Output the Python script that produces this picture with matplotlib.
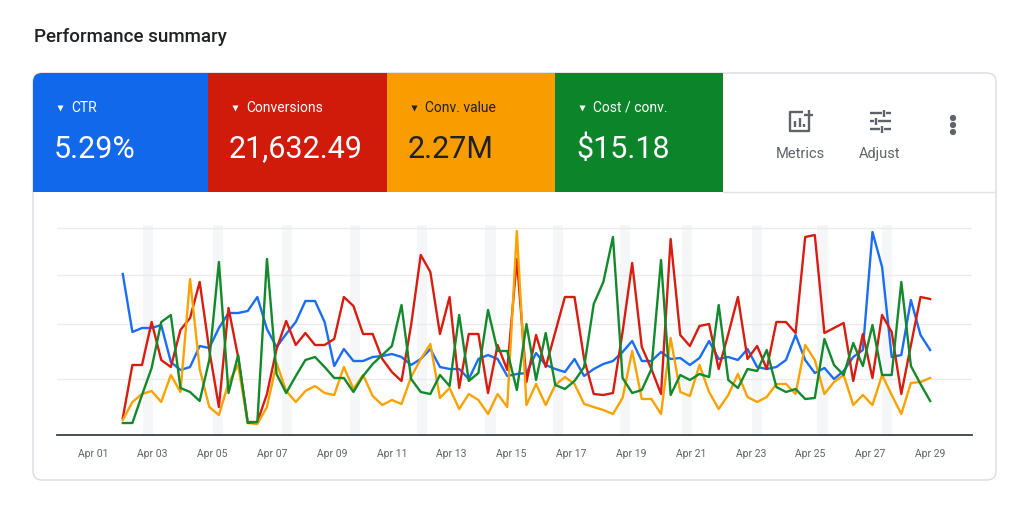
"""Performance summary: tiles with headline metrics and daily line chart."""

import matplotlib

matplotlib.use("Agg")
import matplotlib.pyplot as plt
import numpy as np
from matplotlib.patches import Circle, FancyBboxPatch, Rectangle

plt.rcParams["font.family"] = ["Roboto", "DejaVu Sans"]

W, H = 1024, 505

# ---- data ----
metric_names = ["CTR", "Conversions", "Conv. value", "Cost / conv."]
metric_values = ["5.29%", "21,632.49", "2.27M", "$15.18"]
tick_labels = ["Apr 01", "Apr 03", "Apr 05", "Apr 07", "Apr 09", "Apr 11", "Apr 13", "Apr 15",
               "Apr 17", "Apr 19", "Apr 21", "Apr 23", "Apr 25", "Apr 27", "Apr 29"]
weekend_days = [1.84, 4.18, 6.49, 8.76, 11.0, 13.3, 15.55, 17.8, 19.87, 22.2, 24.4, 26.55]

ctr = [161, 103, 107, 107, 110, 73, 65, 68, 89, 87,
       107, 122, 122, 124, 138, 106, 88, 101, 113, 134,
       134, 113, 69, 86, 74, 74, 78, 79, 81, 78,
       70, 76, 86, 68, 66, 66, 56, 76, 80, 76,
       59, 61, 62, 82, 70, 66, 63, 76, 59, 66,
       71, 74, 83, 94, 74, 74, 83, 76, 77, 70,
       77, 94, 76, 78, 75, 86, 68, 66, 68, 75,
       100, 75, 62, 67, 56, 64, 78, 85, 203, 168,
       78, 80, 135, 100, 85]
conversions = [17, 70, 70, 113, 75, 68, 105, 117, 153, 85,
               28, 127, 78, 13, 13, 41, 86, 114, 90, 102,
               90, 90, 96, 138, 129, 101, 101, 76, 63, 54,
               110, 180, 163, 101, 138, 47, 101, 101, 42, 90,
               65, 176, 53, 100, 68, 103, 138, 138, 76, 41,
               40, 42, 103, 172, 88, 66, 41, 196, 100, 89,
               109, 111, 66, 101, 138, 76, 89, 66, 113, 113,
               102, 198, 200, 102, 107, 112, 54, 101, 57, 120,
               103, 41, 90, 138, 136]
conv_value = [15, 33, 41, 44, 33, 60, 43, 156, 66, 28,
              20, 52, 70, 12, 11, 28, 72, 44, 33, 44,
              49, 42, 40, 68, 46, 60, 39, 30, 35, 31,
              58, 76, 91, 37, 47, 26, 41, 35, 21, 41,
              28, 204, 30, 51, 30, 50, 58, 51, 31, 28,
              25, 21, 37, 84, 36, 36, 21, 97, 43, 39,
              70, 43, 26, 40, 61, 38, 33, 38, 51, 51,
              41, 90, 75, 41, 53, 60, 30, 40, 30, 60,
              40, 21, 52, 53, 57]
cost_per_conv = [12, 12, 40, 67, 113, 120, 47, 43, 34, 75,
                 173, 42, 80, 12, 13, 176, 61, 42, 59, 75,
                 78, 68, 57, 57, 43, 59, 71, 80, 89, 130,
                 56, 43, 41, 60, 49, 120, 54, 62, 125, 84,
                 84, 45, 111, 55, 102, 50, 46, 54, 68, 131,
                 153, 198, 57, 42, 45, 66, 175, 40, 60, 55,
                 61, 58, 130, 55, 47, 66, 64, 85, 48, 43,
                 46, 36, 37, 96, 70, 60, 92, 69, 110, 60,
                 60, 153, 69, 51, 34]
grid_levels = [56, 111, 160, 207]

tile_colors = ["#1268ea", "#d01b0b", "#f89c00", "#0c842a"]
line_colors = ["#1a6ef5", "#d91c10", "#f9a200", "#128a2c"]
text_colors = ["white", "white", "#202124", "white"]
tile_edges = [33, 208, 387, 555, 723]

fig = plt.figure(figsize=(W / 100, H / 100), dpi=100)
fig.patch.set_facecolor("white")

# page layer in pixel units
bg = fig.add_axes([0, 0, 1, 1])
bg.set_xlim(0, W)
bg.set_ylim(H, 0)
bg.axis("off")

bg.text(34, 37, "Performance summary", fontsize=13.5, color="#202124", va="center",
        fontweight="medium")

card = FancyBboxPatch((33, 73), 963, 407, boxstyle="round,pad=0,rounding_size=9",
                      fc="white", ec="#dadce0", lw=1)
bg.add_patch(card)
for k, name in enumerate(metric_names):
    x0, x1 = tile_edges[k], tile_edges[k + 1]
    tile = Rectangle((x0, 73), x1 - x0, 119, fc=tile_colors[k], ec="none")
    bg.add_patch(tile)
    tile.set_clip_path(card)
    bg.plot(x0 + 27, 108, marker="v", ms=5, color=text_colors[k], mec="none")
    bg.text(x0 + 38, 108, name, fontsize=10, color=text_colors[k], va="center")
    bg.text(x0 + 21, 149, metric_values[k], fontsize=22, color=text_colors[k], va="center")
bg.plot([723, 996], [192, 192], color="#e3e3e3", lw=1)

# toolbar icons
icon = dict(color="#5f6368", lw=1.7, solid_capstyle="butt")
bg.plot([803, 790, 790, 809, 809], [112, 112, 131, 131, 119], **icon)
bg.plot([804, 813], [114.5, 114.5], **icon)
bg.plot([808.5, 808.5], [110, 119], **icon)
bg.plot([795, 795], [121, 127], **icon)
bg.plot([799.5, 799.5], [118, 127], **icon)
bg.plot([804, 804], [124, 127], **icon)
for y, gap in [(113, 884), (121, 876), (129, 882)]:
    bg.plot([870, gap - 2], [y, y], **icon)
    bg.plot([gap + 2, 891], [y, y], **icon)
    bg.plot([gap, gap], [y - 3.5, y + 3.5], **icon)
for y in [118, 125, 132]:
    bg.add_patch(Circle((953, y), 2.4, color="#5f6368"))
bg.text(800, 154, "Metrics", fontsize=10.5, color="#5f6368", ha="center", va="center")
bg.text(880, 154, "Adjust", fontsize=10.5, color="#5f6368", ha="center", va="center")

# chart
ax = fig.add_axes([57 / W, 1 - 435 / H, (972 - 57) / W, (435 - 225) / H])
ax.set_xlim(-1.2, 29.4)
ax.set_ylim(0, 210)
ax.patch.set_alpha(0)
for d in weekend_days:
    ax.axvspan(d - 0.17, d + 0.17, color="#f5f6f7", zorder=0, lw=0)
for g in grid_levels:
    ax.axhline(g, color="#ebebeb", lw=1, zorder=1)

days = np.linspace(1, 28, len(ctr))
for series, color in zip([ctr, conversions, conv_value, cost_per_conv], line_colors):
    ax.plot(days, series, color=color, lw=1.7, zorder=3)

for side in ["top", "right", "left"]:
    ax.spines[side].set_visible(False)
ax.spines["bottom"].set_color("#3c4043")
ax.spines["bottom"].set_linewidth(1.3)
ax.set_yticks([])
ax.set_xticks(np.arange(0, 29, 2))
ax.set_xticklabels(tick_labels, fontsize=7.5, color="#5f6368")
ax.tick_params(axis="x", length=0, pad=10)

fig.savefig("out.png", dpi=100, facecolor="white")
